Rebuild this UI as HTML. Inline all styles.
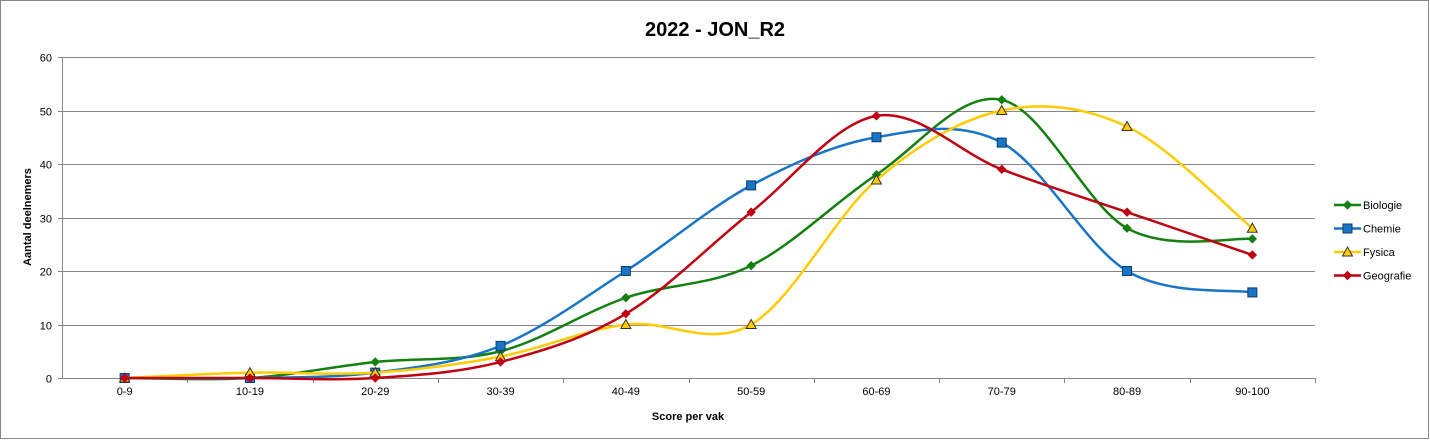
<!DOCTYPE html>
<html><head><meta charset="utf-8"><style>
body{margin:0;background:#fff}
svg{display:block;font-family:"Liberation Sans",sans-serif}
</style></head><body>
<svg id="c" width="1430" height="440" xmlns="http://www.w3.org/2000/svg">
<rect x="0.5" y="0.5" width="1428" height="438" fill="#fff" stroke="#888"/>
<text x="715" y="36" text-anchor="middle" font-size="20" font-weight="bold">2022 - JON_R2</text>
<g id="grid"></g><g id="axes"></g><g id="series"></g><g id="legend"></g>
<text x="688" y="420" text-anchor="middle" font-size="11" font-weight="bold">Score per vak</text>
<text transform="translate(31,217) rotate(-90)" text-anchor="middle" font-size="11" font-weight="bold">Aantal deelnemers</text>
</svg>
<script>
const categories=["0-9","10-19","20-29","30-39","40-49","50-59","60-69","70-79","80-89","90-100"];
const yTicks=[0,10,20,30,40,50,60];
const seriesNames=["Biologie","Chemie","Fysica","Geografie"];
const biologie=[0,0,3,5,15,21,38,52,28,26];
const chemie=[0,0,1,6,20,36,45,44,20,16];
const fysica=[0,1,1,4,10,10,37,50,47,28];
const geografie=[0,0,0,3,12,31,49,39,31,23];
const seriesData=[biologie,chemie,fysica,geografie];
const colors=["#138010","#1874c4","#ffcc00","#c00010"];
const markers=["diamond","square","triangle","diamond"];
const NS="http://www.w3.org/2000/svg";
const L=62,R=1315,T=57,B=378,YMAX=60;
const band=(R-L)/categories.length;
const xs=i=>L+band*(i+0.5);
const ys=v=>B-(v/YMAX)*(B-T);
function mk(tag,at,parent){const e=document.createElementNS(NS,tag);for(const k in at)e.setAttribute(k,at[k]);parent.appendChild(e);return e;}
const grid=document.getElementById('grid'),axes=document.getElementById('axes');
yTicks.forEach(t=>{
 const y=Math.round(ys(t))+0.5;
 const g=mk('line',{x1:L-4,x2:R,y1:y,y2:y,stroke:'#868686','stroke-width':1},grid);
 
 
 const tx=mk('text',{x:L-10,y:y+4,'text-anchor':'end','font-size':11},axes);
 tx.textContent=t;
 
 
});
const ya=mk('line',{x1:L+0.5,x2:L+0.5,y1:T,y2:B,stroke:'#868686'},axes);


categories.forEach((c,i)=>{
 const x=Math.round(L+band*(i+1))+0.5;
 mk('line',{x1:x,x2:x,y1:B,y2:B+5,stroke:'#868686'},axes);
 const tx=mk('text',{x:xs(i),y:B+17,'text-anchor':'middle','font-size':11},axes);
 tx.textContent=c;
 
 
});
function path(d){
 const p=d.map((v,i)=>[xs(i),ys(v)]);
 let s='M'+p[0][0]+','+p[0][1];
 for(let i=0;i<p.length-1;i++){
  const p0=p[Math.max(i-1,0)],p1=p[i],p2=p[i+1],p3=p[Math.min(i+2,p.length-1)];
  const c1=[p1[0]+(p2[0]-p0[0])/6,p1[1]+(p2[1]-p0[1])/6];
  const c2=[p2[0]-(p3[0]-p1[0])/6,p2[1]-(p3[1]-p1[1])/6];
  s+=` C${c1[0]},${c1[1]} ${c2[0]},${c2[1]} ${p2[0]},${p2[1]}`;
 }
 return s;
}
function marker(type,x,y,col,parent){
 if(type==='diamond')return mk('path',{d:`M${x},${y-4} L${x+4},${y} L${x},${y+4} L${x-4},${y}Z`,fill:col,stroke:col},parent);
 if(type==='square')return mk('rect',{x:x-4.5,y:y-4.5,width:9,height:9,fill:col,stroke:'#0c3c6c'},parent);
 return mk('path',{d:`M${x},${y-5} L${x+5},${y+4} L${x-5},${y+4}Z`,fill:col,stroke:'#333'},parent);
}
const sg=document.getElementById('series'),lg=document.getElementById('legend');
seriesData.forEach((d,k)=>{
 const g=mk('g',{},sg);
 
 
 mk('path',{d:path(d),fill:'none',stroke:colors[k],'stroke-width':2.5},g);
 d.forEach((v,i)=>{
  const m=marker(markers[k],xs(i),ys(v),colors[k],g);
  
  
 });
 const ly=205+k*23.5;
 const le=mk('g',{},lg);
 
 
 mk('line',{x1:1334,x2:1361,y1:ly,y2:ly,stroke:colors[k],'stroke-width':2.5},le);
 marker(markers[k],1347.5,ly,colors[k],le);
 const t=mk('text',{x:1363,y:ly+4,'font-size':11},le);
 t.textContent=seriesNames[k];
});
</script>
</body></html>
